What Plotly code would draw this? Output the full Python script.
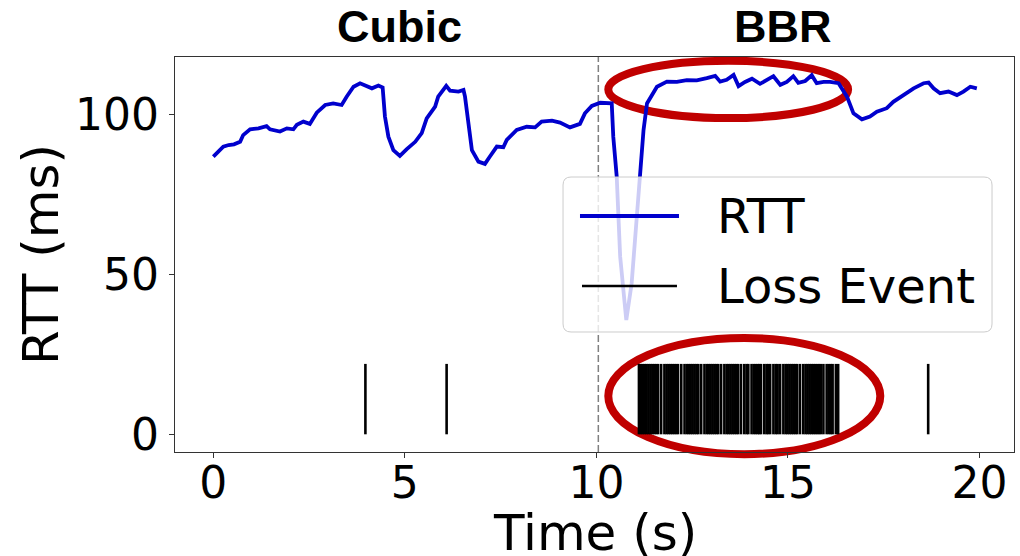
import plotly.graph_objects as go

# RTT trace (time in s, RTT in ms)
time_s = [0.00, 0.26, 0.40, 0.54, 0.70, 0.78, 0.96, 1.18, 1.39, 1.48, 1.74, 1.92, 2.09, 2.18,
          2.35, 2.52, 2.70, 2.92, 3.13, 3.35, 3.48, 3.66, 3.83, 4.00, 4.14, 4.31, 4.42, 4.48,
          4.57, 4.70, 4.87, 5.05, 5.27, 5.44, 5.57, 5.79, 5.87, 6.08, 6.18, 6.40, 6.53, 6.57,
          6.66, 6.75, 6.92, 7.09, 7.22, 7.40, 7.57, 7.66, 7.92, 8.18, 8.40, 8.57, 8.84, 9.05,
          9.31, 9.57, 9.70, 9.88, 10.10, 10.40, 10.44, 10.53, 10.62, 10.78, 10.92, 11.05,
          11.14, 11.23, 11.32, 11.58, 11.84, 12.10, 12.36, 12.62, 12.88, 13.10, 13.23, 13.40,
          13.58, 13.71, 13.88, 14.06, 14.27, 14.45, 14.62, 14.80, 14.97, 15.14, 15.27, 15.45,
          15.62, 15.75, 15.93, 16.10, 16.32, 16.54, 16.71, 16.93, 17.14, 17.32, 17.58, 17.75,
          18.02, 18.28, 18.54, 18.67, 18.80, 18.97, 19.19, 19.41, 19.58, 19.76, 19.93]
rtt_ms = [86.8, 89.9, 90.4, 90.6, 91.4, 93.5, 95.3, 95.6, 96.3, 95.3, 94.6, 95.6, 95.3, 96.7,
          97.7, 97.0, 100.5, 102.9, 103.4, 102.9, 105.5, 108.6, 109.7, 108.8, 108.1, 109.0, 108.4, 99.3,
          93.0, 88.8, 87.0, 89.1, 91.4, 94.1, 98.7, 102.4, 105.5, 108.9, 107.4, 107.1, 107.6, 105.5,
          96.1, 88.8, 85.2, 84.5, 86.8, 89.9, 89.7, 92.0, 95.1, 96.1, 95.9, 97.7, 98.0, 97.4,
          95.9, 97.0, 100.3, 102.6, 103.6, 103.4, 93.0, 80.5, 55.5, 35.7, 47.2, 65.9,
          81.6, 95.1, 103.4, 108.6, 110.2, 110.1, 110.7, 110.6, 111.3, 112.0, 110.2, 110.8,
          112.3, 108.8, 110.1, 111.1, 109.5, 110.8, 111.9, 109.2, 110.1, 111.9, 109.8, 110.4,
          112.2, 109.7, 110.1, 110.1, 109.7, 105.5, 100.3, 98.4, 99.3, 100.8, 101.9, 103.9,
          106.0, 108.1, 109.7, 109.9, 108.1, 106.6, 107.1, 106.0, 107.1, 108.6, 108.1]

# Loss event times (s)
loss_times = [3.97, 6.09,
              11.11, 11.16, 11.21, 11.26, 11.31, 11.36, 11.41, 11.46, 11.51, 11.56, 11.61, 11.69,
              11.775, 11.83, 11.88, 11.93, 11.98, 12.03, 12.08, 12.13, 12.215,
              12.30, 12.36, 12.41, 12.46, 12.51, 12.56, 12.61, 12.66, 12.735,
              12.82, 12.88, 12.93, 12.98, 13.03, 13.08, 13.13, 13.18, 13.255,
              13.34, 13.40, 13.45, 13.50, 13.55, 13.60, 13.65, 13.70, 13.775,
              13.86, 13.92, 13.965,
              14.05, 14.11, 14.16, 14.21, 14.25, 14.295,
              14.38, 14.44, 14.48, 14.535,
              14.62, 14.68, 14.73, 14.795,
              14.88, 14.94, 14.99, 15.04, 15.09, 15.14, 15.19, 15.24, 15.315,
              15.40, 15.46, 15.51, 15.56, 15.61, 15.66, 15.71, 15.76, 15.81, 15.86, 15.925,
              16.01, 16.07, 16.12, 16.165,
              16.25, 16.31,
              18.66]
loss_height = 22.0

switch_time = 10.05  # Cubic -> BBR switch

x_ticks = [0, 5, 10, 15, 20]
y_ticks = [0, 50, 100]
x_range = [-1.0, 20.9]
y_range = [-5.53, 117.9]

# Highlight ellipses in data units: (x0, x1, y0, y1)
ellipses = [(10.31, 16.57, 98.8, 116.7), (10.31, 17.41, -6.2, 30.1)]

phase_labels = ["Cubic", "BBR"]
phase_label_x = [4.85, 14.88]

BLUE = "#0000cd"
RED = "#c00000"
FONT = "DejaVu Sans"


def px(v):
    return (v - x_range[0]) / (x_range[1] - x_range[0])


def py(v):
    return (v - y_range[0]) / (y_range[1] - y_range[0])


fig = go.Figure()

fig.add_trace(go.Scatter(x=time_s, y=rtt_ms, mode="lines",
                         line=dict(color=BLUE, width=3.8), showlegend=False))

lx, ly = [], []
for t in loss_times:
    lx += [t, t, None]
    ly += [0, loss_height, None]
fig.add_trace(go.Scatter(x=lx, y=ly, mode="lines",
                         line=dict(color="black", width=2.6), showlegend=False))

shapes = []
# dashed switch line
shapes.append(dict(type="line", xref="x", yref="paper", x0=switch_time, x1=switch_time,
                   y0=0, y1=1, line=dict(color="#808080", width=1.5, dash="7px,3px"),
                   layer="below"))
# highlight ellipses (drawn unclipped)
for (ex0, ex1, ey0, ey1) in ellipses:
    shapes.append(dict(type="circle", xref="paper", yref="paper",
                       x0=px(ex0), x1=px(ex1), y0=py(ey0), y1=py(ey1),
                       line=dict(color=RED, width=8), layer="below"))

# legend box with rounded corners
bx0, bx1, by0, by1 = 0.4625, 0.9738, 0.3038, 0.6962
rx, ry = 0.0095, 0.0203
path = (f"M{bx0+rx},{by0} L{bx1-rx},{by0} Q{bx1},{by0} {bx1},{by0+ry} "
        f"L{bx1},{by1-ry} Q{bx1},{by1} {bx1-rx},{by1} L{bx0+rx},{by1} "
        f"Q{bx0},{by1} {bx0},{by1-ry} L{bx0},{by0+ry} Q{bx0},{by0} {bx0+rx},{by0} Z")
shapes.append(dict(type="path", xref="paper", yref="paper", path=path,
                   fillcolor="rgba(255,255,255,0.8)", line=dict(color="#cccccc", width=1),
                   layer="above"))
shapes.append(dict(type="line", xref="paper", yref="paper", x0=0.4827, x1=0.6007,
                   y0=0.5975, y1=0.5975, line=dict(color=BLUE, width=3.8), layer="above"))
shapes.append(dict(type="line", xref="paper", yref="paper", x0=0.4851, x1=0.5983,
                   y0=0.4203, y1=0.4203, line=dict(color="black", width=2.6), layer="above"))

annotations = [
    dict(text="RTT", xref="paper", yref="paper", x=0.6440, y=0.5975, xanchor="left",
         yanchor="middle", showarrow=False, font=dict(family=FONT, size=48, color="black")),
    dict(text="Loss Event", xref="paper", yref="paper", x=0.6440, y=0.4215, xanchor="left",
         yanchor="middle", showarrow=False, font=dict(family=FONT, size=48, color="black")),
    # x-axis title, allowed to run past the bottom edge
    dict(text="Time (s)", xref="paper", yref="paper", x=0.5, y=-0.1266, xanchor="center",
         yanchor="top", showarrow=False, font=dict(family=FONT, size=50, color="black")),
]
for lab, lxp in zip(phase_labels, phase_label_x):
    annotations.append(dict(text=f"<b>{lab}</b>", xref="x", yref="paper", x=lxp, y=1.077,
                            xanchor="center", yanchor="middle", showarrow=False,
                            font=dict(family="Liberation Sans", size=45, color="black")))

axis_common = dict(showline=True, mirror=True, linecolor="#333333", linewidth=1.2,
                   ticks="outside", ticklen=5, tickwidth=1.2, tickcolor="#333333",
                   showgrid=False, zeroline=False, automargin=False,
                   tickfont=dict(family=FONT, size=44, color="black"))

fig.update_layout(
    width=1020, height=556,
    margin=dict(l=175, r=6, t=57, b=104),
    paper_bgcolor="white", plot_bgcolor="rgba(0,0,0,0)",
    xaxis=dict(range=x_range, tickvals=x_ticks, ticklabelstandoff=-13, **axis_common),
    yaxis=dict(range=y_range, tickvals=y_ticks, ticklabelstandoff=1,
               title=dict(text="RTT (ms)", font=dict(family=FONT, size=50, color="black"),
                          standoff=0),
               **axis_common),
    shapes=shapes, annotations=annotations, showlegend=False,
)

fig.write_html("out.html")
